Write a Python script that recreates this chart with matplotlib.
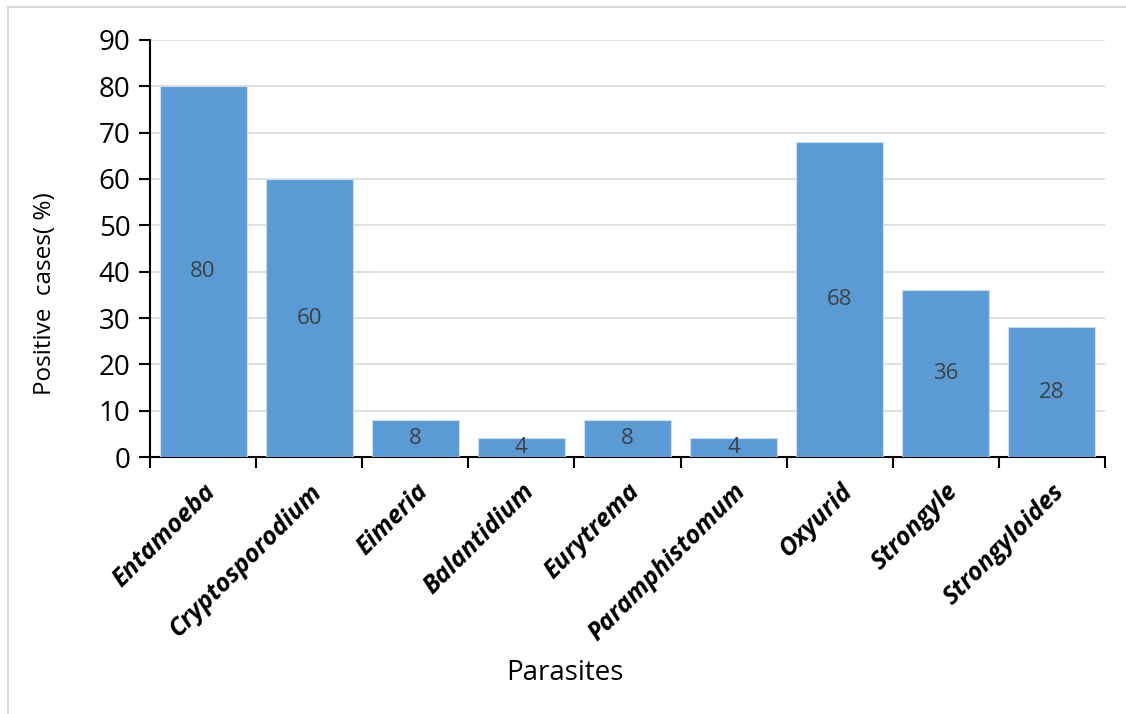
import numpy as np
import matplotlib.pyplot as plt
from matplotlib.lines import Line2D

# data
parasites = ['Entamoeba', 'Cryptosporodium', 'Eimeria', 'Balantidium', 'Eurytrema',
             'Paramphistomum', 'Oxyurid', 'Strongyle', 'Strongyloides']
positive = [80, 60, 8, 4, 8, 4, 68, 36, 28]

plt.rcParams['font.family'] = ['Open Sans', 'DejaVu Sans']

fig = plt.figure(figsize=(11.26, 7.14), dpi=100)
ax = fig.add_axes([0.1332, 0.3599, 0.8481, 0.5841])

# chart frame (only top and left edges fall inside the picture)
fl, ft = 8 / 1126, 1 - 7 / 714
fig.lines.append(Line2D([fl, 1.0], [ft, ft], transform=fig.transFigure,
                        color='#d9d9d9', linewidth=1.5))
fig.lines.append(Line2D([fl, fl], [0.0, ft], transform=fig.transFigure,
                        color='#d9d9d9', linewidth=1.5))

x = np.arange(len(parasites))
bars = ax.bar(x, positive, width=0.82, color='#5b9bd5', edgecolor='#c9def2',
              linewidth=0.8, zorder=3)

# value labels at mid-height of bars
for xi, v in zip(x, positive):
    ax.text(xi, v / 2, str(v), ha='center', va='center', fontsize=16,
            color='#404040', zorder=4)

ax.set_xlim(-0.5, len(parasites) - 0.5)
ax.set_ylim(0, 90)
ax.set_yticks(np.arange(0, 91, 10))
ax.yaxis.grid(True, color='#d9d9d9', linewidth=1.2, zorder=0)
ax.set_axisbelow(True)

# ticks at category boundaries on x
ax.set_xticks(np.arange(-0.5, len(parasites), 1.0))
ax.set_xticklabels([])
ax.tick_params(axis='x', which='major', length=8, width=1.5, direction='out')
ax.set_xticks(x, minor=True)
ax.set_xticklabels(parasites, minor=True, rotation=45, ha='right',
                   rotation_mode='anchor', fontsize=18, fontweight='bold',
                   fontstyle='italic')
ax.tick_params(axis='x', which='minor', length=0, pad=16)
ax.tick_params(axis='y', length=8, width=1.5, labelsize=20, pad=6)

for s in ['top', 'right']:
    ax.spines[s].set_visible(False)
for s in ['left', 'bottom']:
    ax.spines[s].set_linewidth(1.5)

ax.set_ylabel('Positive  cases( %)', fontsize=17.5)
ax.yaxis.set_label_coords(-0.097, 0.393)
ax.set_xlabel('Parasites', fontsize=20)
ax.xaxis.set_label_coords(0.435, -0.485)

fig.savefig('out.png', dpi=100)
